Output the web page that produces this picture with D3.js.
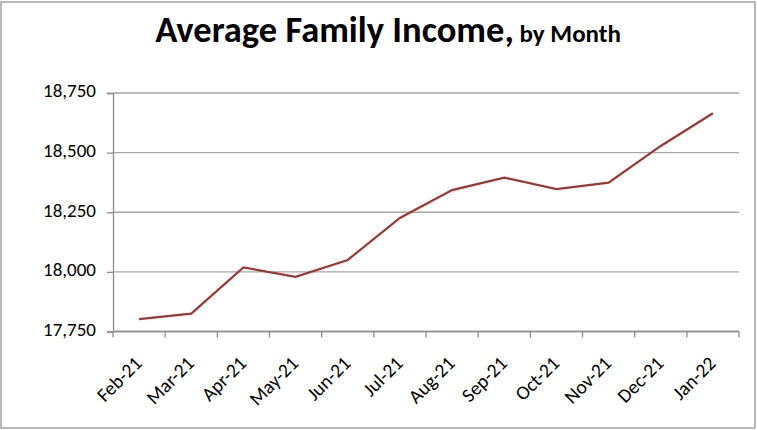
<!DOCTYPE html>
<html><head><meta charset="utf-8">
<script src="https://cdn.jsdelivr.net/npm/d3@7"></script>
<style>body{margin:0;background:#fff}svg{display:block}</style>
</head><body><svg id="c" width="757" height="430"></svg>
<script>
const months = ["Feb-21","Mar-21","Apr-21","May-21","Jun-21","Jul-21","Aug-21","Sep-21","Oct-21","Nov-21","Dec-21","Jan-22"];
const income = [17802,17825,18019,17979,18050,18226,18343,18395,18347,18374,18528,18665];
const yTicks = [17750,18000,18250,18500,18750];

const svg = d3.select("#c");
const m={l:113,r:739,t:93,b:331.5};
svg.append("rect").attr("x",1).attr("y",2).attr("width",754).attr("height",426)
  .attr("fill","#fff").attr("stroke","#8c8c8c").attr("stroke-width",1.2);

const x=d3.scaleBand().domain(months).range([m.l,m.r]);
const y=d3.scaleLinear().domain([17750,18750]).range([m.b,m.t]);
const font="Carlito, Lato, 'Liberation Sans', sans-serif";

// gridlines
svg.append("g").selectAll("line").data(yTicks).join("line")
  .attr("x1",m.l).attr("x2",m.r).attr("y1",d=>y(d)).attr("y2",d=>y(d))
  .attr("stroke","#a6a6a6").attr("stroke-width",1.3);

// y axis
const ya=svg.append("g").attr("transform",`translate(${m.l},0)`)
  .call(d3.axisLeft(y).tickValues(yTicks).tickSize(6).tickPadding(11).tickFormat(d3.format(",")));
ya.select(".domain").attr("stroke","#8c8c8c").attr("stroke-width",1.3);
ya.selectAll(".tick line").attr("stroke","#8c8c8c").attr("stroke-width",1.3);
ya.selectAll("text").attr("font-family",font).attr("font-size",19).attr("fill","#000").attr("dy","0.2em");

// x axis with ticks at band boundaries
const xa=svg.append("g").attr("transform",`translate(0,${m.b})`);
xa.append("line").attr("x1",m.l).attr("x2",m.r).attr("stroke","#8c8c8c").attr("stroke-width",1.3);
const bounds=months.map(d=>x(d)).concat([m.r]);
xa.selectAll("line.t").data(bounds).join("line").attr("class","t")
  .attr("x1",d=>d).attr("x2",d=>d).attr("y1",0).attr("y2",6)
  .attr("stroke","#8c8c8c").attr("stroke-width",1.3);
xa.selectAll("text").data(months).join("text")
  .attr("transform",d=>`translate(${x(d)+x.bandwidth()/2+4},${33}) rotate(-45)`)
  .attr("text-anchor","end")
  .attr("font-family",font).attr("font-size",19.5).attr("fill","#000").text(d=>d);

// line
const line=d3.line().x((d,i)=>x(months[i])+x.bandwidth()/2).y(d=>y(d));
svg.append("path").datum(income).attr("d",line).attr("fill","none")
  .attr("stroke","#993835").attr("stroke-width",2.2);

// title
const t=svg.append("text").attr("x",388).attr("y",42).attr("text-anchor","middle")
  .attr("font-family",font).attr("font-weight","bold").attr("fill","#000");
t.append("tspan").attr("font-size",36.5).text("Average Family Income,");
t.append("tspan").attr("font-size",25).text(" by Month");
</script></body></html>
